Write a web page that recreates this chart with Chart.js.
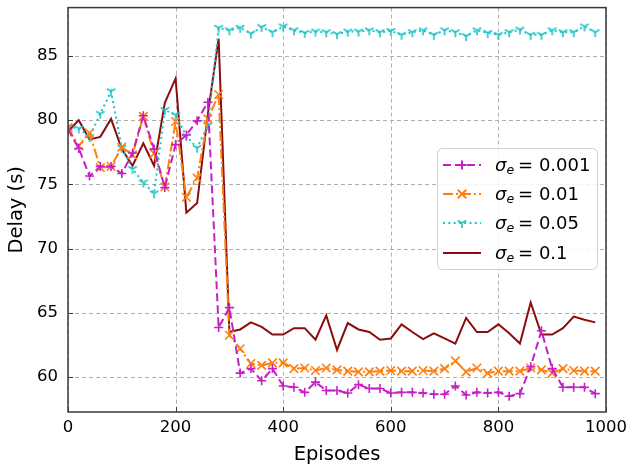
<!DOCTYPE html>
<html>
<head>
<meta charset="utf-8">
<script src="https://cdn.jsdelivr.net/npm/chart.js@4.4.1/dist/chart.umd.min.js"></script>
<style>
  html, body { margin: 0; padding: 0; background: #fff; }
  #wrap { width: 628px; height: 467px; }
</style>
</head>
<body>
<div id="wrap"><canvas id="chart" width="628" height="467"></canvas></div>
<script>
// Episodes (x) sampled every 20
const episodes = [0, 20, 40, 60, 80, 100, 120, 140, 160, 180, 200, 220, 240, 260, 280, 300, 320, 340, 360, 380,
    400, 420, 440, 460, 480, 500, 520, 540, 560, 580, 600, 620, 640, 660, 680, 700, 720, 740, 760, 780,
    800, 820, 840, 860, 880, 900, 920, 940, 960, 980];

// Delay (s) per sigma_e
const delay001 = [79.3, 77.8, 75.65, 76.4, 76.4, 75.85, 77.45, 80.35, 77.75, 74.75, 78.1, 78.85, 79.95, 81.4, 63.85, 65.4, 60.3, 60.65, 59.7, 60.65,
    59.3, 59.2, 58.8, 59.6, 58.95, 58.95, 58.75, 59.4, 59.1, 59.1, 58.75, 58.8, 58.8, 58.75, 58.65, 58.65, 59.3, 58.6, 58.8, 58.75,
    58.8, 58.5, 58.7, 60.8, 63.6, 60.65, 59.2, 59.2, 59.2, 58.7];
const delay01 = [79.4, 78.0, 79.0, 76.3, 76.4, 77.9, 77.3, 80.3, 77.4, 74.8, 79.9, 74.0, 75.5, 80.1, 82.0, 63.25, 62.2, 61.05, 60.9, 61.1,
    61.1, 60.65, 60.7, 60.5, 60.7, 60.55, 60.45, 60.4, 60.4, 60.45, 60.5, 60.45, 60.45, 60.5, 60.45, 60.65, 61.25, 60.4, 60.7, 60.3,
    60.45, 60.45, 60.45, 60.7, 60.55, 60.3, 60.65, 60.5, 60.45, 60.45];
const delay05 = [79.5, 79.35, 78.7, 80.5, 82.25, 77.85, 76.2, 75.15, 74.3, 80.8, 80.4, 78.75, 77.85, 79.6, 87.2, 87.0, 87.2, 86.75, 87.25, 86.85,
    87.3, 87.0, 86.8, 86.9, 86.85, 86.7, 86.9, 86.9, 87.0, 86.85, 86.95, 86.65, 86.85, 87.0, 86.65, 87.0, 86.85, 86.55, 87.0, 86.8,
    86.65, 86.85, 87.05, 86.65, 86.65, 87.0, 86.85, 86.85, 87.3, 86.85];
const delay1 = [79.15, 80.0, 78.5, 78.7, 80.1, 77.75, 76.45, 78.2, 76.45, 81.35, 83.25, 72.8, 73.55, 80.5, 86.35, 63.5, 63.7, 64.25, 63.9, 63.3,
    63.3, 63.8, 63.8, 62.9, 64.8, 62.1, 64.2, 63.7, 63.5, 62.9, 63.0, 64.1, 63.5, 62.95, 63.4, 63.0, 62.6, 64.6, 63.5, 63.5,
    64.1, 63.4, 62.6, 65.8, 63.3, 63.3, 63.8, 64.7, 64.45, 64.25];

const sigmaLabels = ['0.001', '0.01', '0.05', '0.1'];
const xTicks = [0, 200, 400, 600, 800, 1000];
const yTicks = [60, 65, 70, 75, 80, 85];

const COLORS = {
    magenta: '#c61fc6',
    orange: '#ff7f0e',
    cyan: '#1dc4c8',
    darkred: '#8b0d0d',
    grid: '#b0b0b0',
    frame: '#3a3a3a'
};

// tri_down marker ("Y") as a small image
function makeTriDown(color) {
    const c = document.createElement('canvas');
    c.width = 14; c.height = 14;
    const g = c.getContext('2d');
    g.strokeStyle = color;
    g.lineWidth = 1.6;
    g.beginPath();
    g.moveTo(7, 7); g.lineTo(7, 12);
    g.moveTo(7, 7); g.lineTo(2.7, 4.5);
    g.moveTo(7, 7); g.lineTo(11.3, 4.5);
    g.stroke();
    return c;
}
const triDown = makeTriDown(COLORS.cyan);

function toPoints(values) {
    return episodes.map((e, i) => ({ x: e, y: values[i] }));
}

const datasets = [
    {
        label: sigmaLabels[0], data: toPoints(delay001),
        borderColor: COLORS.magenta, backgroundColor: COLORS.magenta,
        borderWidth: 2, borderDash: [8, 4],
        pointStyle: 'cross', pointRadius: 4.5, pointBorderWidth: 1.6,
        pointBorderColor: COLORS.magenta, tension: 0
    },
    {
        label: sigmaLabels[1], data: toPoints(delay01),
        borderColor: COLORS.orange, backgroundColor: COLORS.orange,
        borderWidth: 2, borderDash: [10, 3, 2, 3],
        pointStyle: 'crossRot', pointRadius: 6, pointBorderWidth: 1.6,
        pointBorderColor: COLORS.orange, tension: 0
    },
    {
        label: sigmaLabels[2], data: toPoints(delay05),
        borderColor: COLORS.cyan, backgroundColor: COLORS.cyan,
        borderWidth: 2, borderDash: [2, 3.3],
        pointStyle: triDown, pointRadius: 5,
        tension: 0
    },
    {
        label: sigmaLabels[3], data: toPoints(delay1),
        borderColor: COLORS.darkred, backgroundColor: COLORS.darkred,
        borderWidth: 2, pointRadius: 0, tension: 0
    }
];

// dashed grid drawn under the lines
const gridPlugin = {
    id: 'dashGrid',
    beforeDatasetsDraw(chart) {
        const { ctx, chartArea: a, scales } = chart;
        ctx.save();
        ctx.strokeStyle = COLORS.grid;
        ctx.lineWidth = 1;
        ctx.setLineDash([4, 3]);
        ctx.beginPath();
        xTicks.forEach(v => {
            const px = Math.round(scales.x.getPixelForValue(v)) + 0.5;
            ctx.moveTo(px, a.top); ctx.lineTo(px, a.bottom);
        });
        yTicks.forEach(v => {
            const py = Math.round(scales.y.getPixelForValue(v)) + 0.5;
            ctx.moveTo(a.left, py); ctx.lineTo(a.right, py);
        });
        ctx.stroke();
        ctx.restore();
    }
};

// Frame, inward ticks and matplotlib-style legend
const framePlugin = {
    id: 'frame',
    afterDraw(chart) {
        const { ctx, chartArea: a, scales } = chart;
        ctx.save();
        ctx.strokeStyle = COLORS.frame;
        ctx.lineWidth = 1.5;
        ctx.strokeRect(a.left, a.top, a.right - a.left, a.bottom - a.top);
        ctx.lineWidth = 1;
        ctx.beginPath();
        xTicks.forEach(v => {
            const px = Math.round(scales.x.getPixelForValue(v)) + 0.5;
            ctx.moveTo(px, a.bottom); ctx.lineTo(px, a.bottom - 5);
        });
        yTicks.forEach(v => {
            const py = Math.round(scales.y.getPixelForValue(v)) + 0.5;
            ctx.moveTo(a.left, py); ctx.lineTo(a.left + 5, py);
        });
        ctx.stroke();

        // legend
        const bx = 437, by = 148, bw = 160, bh = 121, r = 5;
        ctx.fillStyle = 'rgba(255,255,255,0.85)';
        ctx.strokeStyle = '#d0d0d0';
        ctx.lineWidth = 1;
        ctx.beginPath();
        ctx.roundRect(bx + 0.5, by + 0.5, bw, bh, r);
        ctx.fill();
        ctx.stroke();

        const rowY = [165, 194, 223, 253];
        chart.data.datasets.forEach((ds, i) => {
            const y = rowY[i];
            ctx.strokeStyle = ds.borderColor;
            ctx.lineWidth = 2;
            ctx.setLineDash(ds.borderDash || []);
            ctx.beginPath();
            ctx.moveTo(443, y); ctx.lineTo(481, y);
            ctx.stroke();
            ctx.setLineDash([]);
            if (ds.pointRadius > 0) {
                Chart.helpers.drawPoint(ctx, {
                    pointStyle: ds.pointStyle, radius: ds.pointRadius, rotation: 0,
                    borderWidth: ds.pointBorderWidth || 1
                }, 462, y);
            }
            ctx.fillStyle = '#000';
            ctx.textBaseline = 'alphabetic';
            ctx.textAlign = 'left';
            ctx.font = 'italic 18px "DejaVu Sans"';
            const base = y + 6;
            ctx.fillText('\u03c3', 495, base);
            let x = 495 + ctx.measureText('\u03c3').width;
            ctx.font = 'italic 12.5px "DejaVu Sans"';
            ctx.fillText('e', x, base + 3);
            x += ctx.measureText('e').width + 4;
            ctx.font = '18px "DejaVu Sans"';
            ctx.fillText('= ' + ds.label, x, base);
        });
        ctx.restore();
    }
};

const whiteBg = {
    id: 'whiteBg',
    beforeDraw(chart) {
        const { ctx } = chart;
        ctx.save();
        ctx.fillStyle = '#fff';
        ctx.fillRect(0, 0, chart.width, chart.height);
        ctx.restore();
    }
};

function noPad(s) {
    s.paddingTop = 0; s.paddingBottom = 0; s.paddingLeft = 0; s.paddingRight = 0;
}

new Chart(document.getElementById('chart').getContext('2d'), {
    type: 'line',
    data: { datasets: datasets },
    plugins: [whiteBg, gridPlugin, framePlugin],
    options: {
        responsive: false,
        animation: false,
        devicePixelRatio: 1,
        layout: { padding: { top: 7, right: 22, left: 0, bottom: 0 } },
        plugins: {
            legend: { display: false },
            tooltip: { enabled: false }
        },
        scales: {
            x: {
                type: 'linear', min: 0, max: 1000,
                afterBuildTicks: s => { s.ticks = xTicks.map(v => ({ value: v })); },
                afterFit: s => { s.height = 55; noPad(s); },
                grid: { display: false, drawTicks: false },
                border: { display: false },
                ticks: { color: '#000', padding: 6, maxRotation: 0, callback: v => String(v), font: { family: 'DejaVu Sans', size: 16.5 } },
                title: { display: true, text: 'Episodes', color: '#000', padding: { top: 2, bottom: 0 }, font: { family: 'DejaVu Sans', size: 19.5 } }
            },
            y: {
                type: 'linear', min: 57.27, max: 88.77,
                afterBuildTicks: s => { s.ticks = yTicks.map(v => ({ value: v })); },
                afterFit: s => { s.width = 68; noPad(s); },
                grid: { display: false, drawTicks: false },
                border: { display: false },
                ticks: { color: '#000', padding: 10, callback: v => String(v), font: { family: 'DejaVu Sans', size: 16.5 } },
                title: { display: true, text: 'Delay (s)', color: '#000', padding: { top: 5, bottom: 4 }, font: { family: 'DejaVu Sans', size: 19.5 } }
            }
        }
    }
});
</script>
</body>
</html>
